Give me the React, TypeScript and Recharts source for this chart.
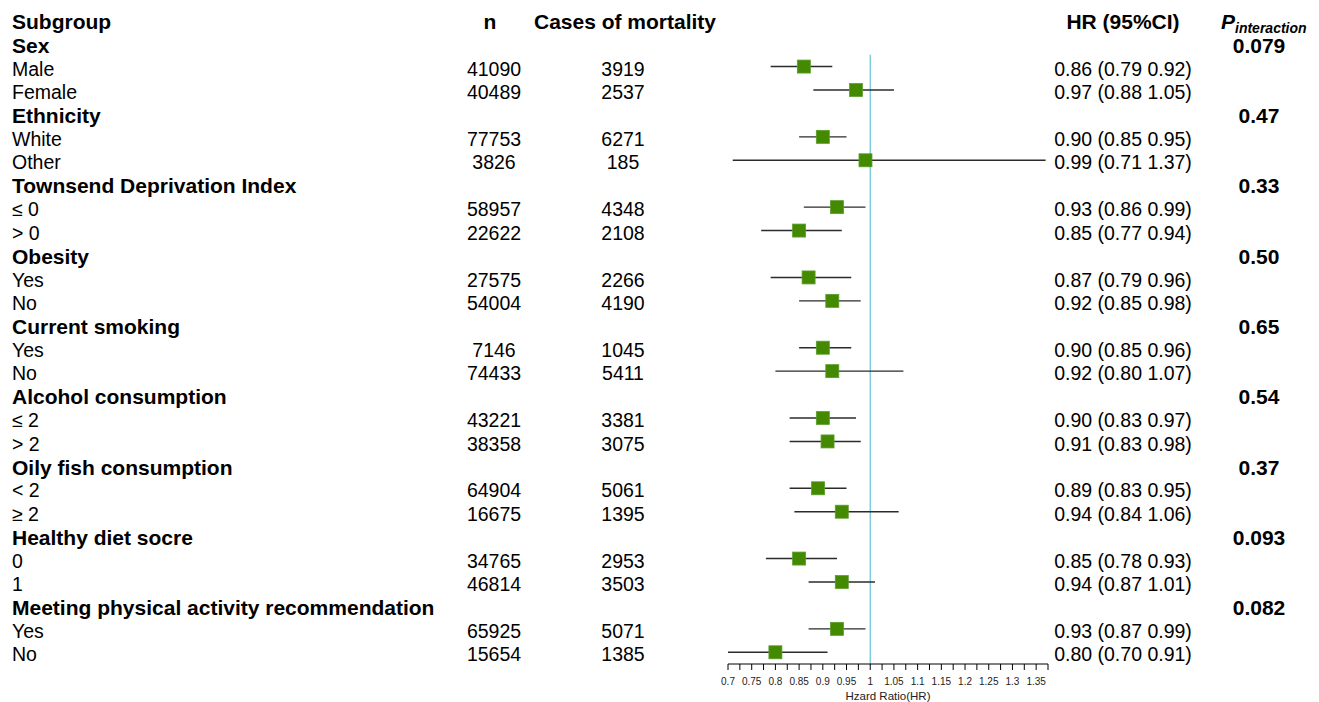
import React from 'react';
import { ScatterChart, Scatter, XAxis, YAxis, ErrorBar, ReferenceLine } from 'recharts';

const groups = [
  'Sex',
  'Ethnicity',
  'Townsend Deprivation Index',
  'Obesity',
  'Current smoking',
  'Alcohol consumption',
  'Oily fish consumption',
  'Healthy diet socre',
  'Meeting physical activity recommendation',
];
const pInteraction = ['0.079', '0.47', '0.33', '0.50', '0.65', '0.54', '0.37', '0.093', '0.082'];

const levels = ['Male', 'Female', 'White', 'Other', '≤ 0', '> 0', 'Yes', 'No', 'Yes', 'No', '≤ 2', '> 2', '< 2', '≥ 2', '0', '1', 'Yes', 'No'];
const nValues = [41090, 40489, 77753, 3826, 58957, 22622, 27575, 54004, 7146, 74433, 43221, 38358, 64904, 16675, 34765, 46814, 65925, 15654];
const deaths = [3919, 2537, 6271, 185, 4348, 2108, 2266, 4190, 1045, 5411, 3381, 3075, 5061, 1395, 2953, 3503, 5071, 1385];
const hr = [0.86, 0.97, 0.9, 0.99, 0.93, 0.85, 0.87, 0.92, 0.9, 0.92, 0.9, 0.91, 0.89, 0.94, 0.85, 0.94, 0.93, 0.8];
const lower = [0.79, 0.88, 0.85, 0.71, 0.86, 0.77, 0.79, 0.85, 0.85, 0.8, 0.83, 0.83, 0.83, 0.84, 0.78, 0.87, 0.87, 0.7];
const upper = [0.92, 1.05, 0.95, 1.37, 0.99, 0.94, 0.96, 0.98, 0.96, 1.07, 0.97, 0.98, 0.95, 1.06, 0.93, 1.01, 0.99, 0.91];

const hrTickLabels = [0.7, 0.75, 0.8, 0.85, 0.9, 0.95, 1, 1.05, 1.1, 1.15, 1.2, 1.25, 1.3, 1.35];

const FONT = '"Liberation Sans", Arial, sans-serif';

interface Row {
  row: number;
  label: string;
  group?: boolean;
  p?: string;
  n?: number;
  cases?: number;
  hr?: number;
  lo?: number;
  hi?: number;
  err?: [number, number];
}

const rows: Row[] = [];
groups.forEach((g, gi) => {
  rows.push({ row: gi * 3, label: g, group: true, p: pInteraction[gi] });
  for (let k = 0; k < 2; k++) {
    const i = gi * 2 + k;
    rows.push({
      row: gi * 3 + 1 + k,
      label: levels[i],
      n: nValues[i],
      cases: deaths[i],
      hr: hr[i],
      lo: lower[i],
      hi: upper[i],
      err: [hr[i] - lower[i], upper[i] - hr[i]],
    });
  }
});
const points = rows.filter((r) => r.hr !== undefined);
const rowTicks = [-1, ...rows.map((r) => r.row)];
const xTicks = hrTickLabels.flatMap((t) => [t, +(t + 0.025).toFixed(3)]);

// table text sits a touch below the marker centre
const TEXT_SHIFT = 2.3;

const RowTick = (props: any) => {
  const { payload } = props;
  const y = props.y + TEXT_SHIFT;
  const r = payload.value;
  if (r === -1) {
    return (
      <g fontFamily={FONT} fontWeight="bold" fontSize={21} fill="#000">
        <text x={12} y={y} dy="0.35em">Subgroup</text>
        <text x={490} y={y} dy="0.35em" textAnchor="middle">n</text>
        <text x={625} y={y} dy="0.35em" textAnchor="middle">Cases of mortality</text>
        <text x={1123} y={y} dy="0.35em" textAnchor="middle">HR (95%CI)</text>
        <text x={1221} y={y} dy="0.35em" fontStyle="italic">
          P<tspan fontSize={14} dy={4}>interaction</tspan>
        </text>
      </g>
    );
  }
  const row = rows.find((d) => d.row === r);
  if (!row) return null;
  if (row.group) {
    return (
      <g fontFamily={FONT} fontWeight="bold" fontSize={21} fill="#000">
        <text x={12} y={y} dy="0.35em">{row.label}</text>
        <text x={1259} y={y} dy="0.35em" textAnchor="middle">{row.p}</text>
      </g>
    );
  }
  return (
    <g fontFamily={FONT} fontSize={19.5} fill="#000">
      <text x={12} y={y} dy="0.35em">{row.label}</text>
      <text x={494} y={y} dy="0.35em" textAnchor="middle">{row.n}</text>
      <text x={623} y={y} dy="0.35em" textAnchor="middle">{row.cases}</text>
      <text x={1123} y={y} dy="0.35em" textAnchor="middle">
        {`${row.hr!.toFixed(2)} (${row.lo!.toFixed(2)} ${row.hi!.toFixed(2)})`}
      </text>
    </g>
  );
};

const HrTick = (props: any) => {
  const { x, y, payload } = props;
  const major = hrTickLabels.some((t) => Math.abs(t - payload.value) < 1e-6);
  if (!major) return null;
  return (
    <text x={x} y={y + 13} textAnchor="middle" fontFamily={FONT} fontSize={10} fill="#222">
      {String(+payload.value.toFixed(2))}
    </text>
  );
};

const Box = (props: any) => {
  const { cx, cy } = props;
  return <rect x={cx - 6.5} y={cy - 6.5} width={13} height={13} fill="#438a00" stroke="#5c9e2c" strokeWidth={0.8} />;
};

export default function App() {
  return (
    <div style={{ position: 'absolute', left: 0, top: 0, width: 1319, height: 702, background: '#fff' }}>
      <ScatterChart width={1319} height={702} margin={{ top: 8, right: 271, bottom: 0, left: 0 }}>
        <XAxis
          type="number"
          dataKey="hr"
          domain={[0.7, 1.375]}
          allowDataOverflow
          ticks={xTicks}
          interval={0}
          tick={<HrTick />}
          tickSize={6}
          height={38}
          stroke="#000"
          tickLine={{ stroke: '#000' }}
          label={{ value: 'Hzard Ratio(HR)', position: 'insideBottom', offset: 2, fontSize: 11.5, fill: '#222', fontFamily: FONT }}
        />
        <YAxis
          type="number"
          dataKey="row"
          domain={[-1.5, 26.5]}
          allowDataOverflow
          reversed
          ticks={rowTicks}
          interval={0}
          width={728}
          axisLine={false}
          tickLine={false}
          tick={<RowTick />}
        />
        <ReferenceLine
          segment={[
            { x: 1, y: 0.5 },
            { x: 1, y: 26.5 },
          ]}
          stroke="#63c3d6"
          strokeWidth={1.2}
        />
        <Scatter data={points} shape={<Box />} isAnimationActive={false}>
          <ErrorBar dataKey="err" direction="x" width={0} stroke="#2b2b2b" strokeWidth={1.4} />
        </Scatter>
      </ScatterChart>
    </div>
  );
}
